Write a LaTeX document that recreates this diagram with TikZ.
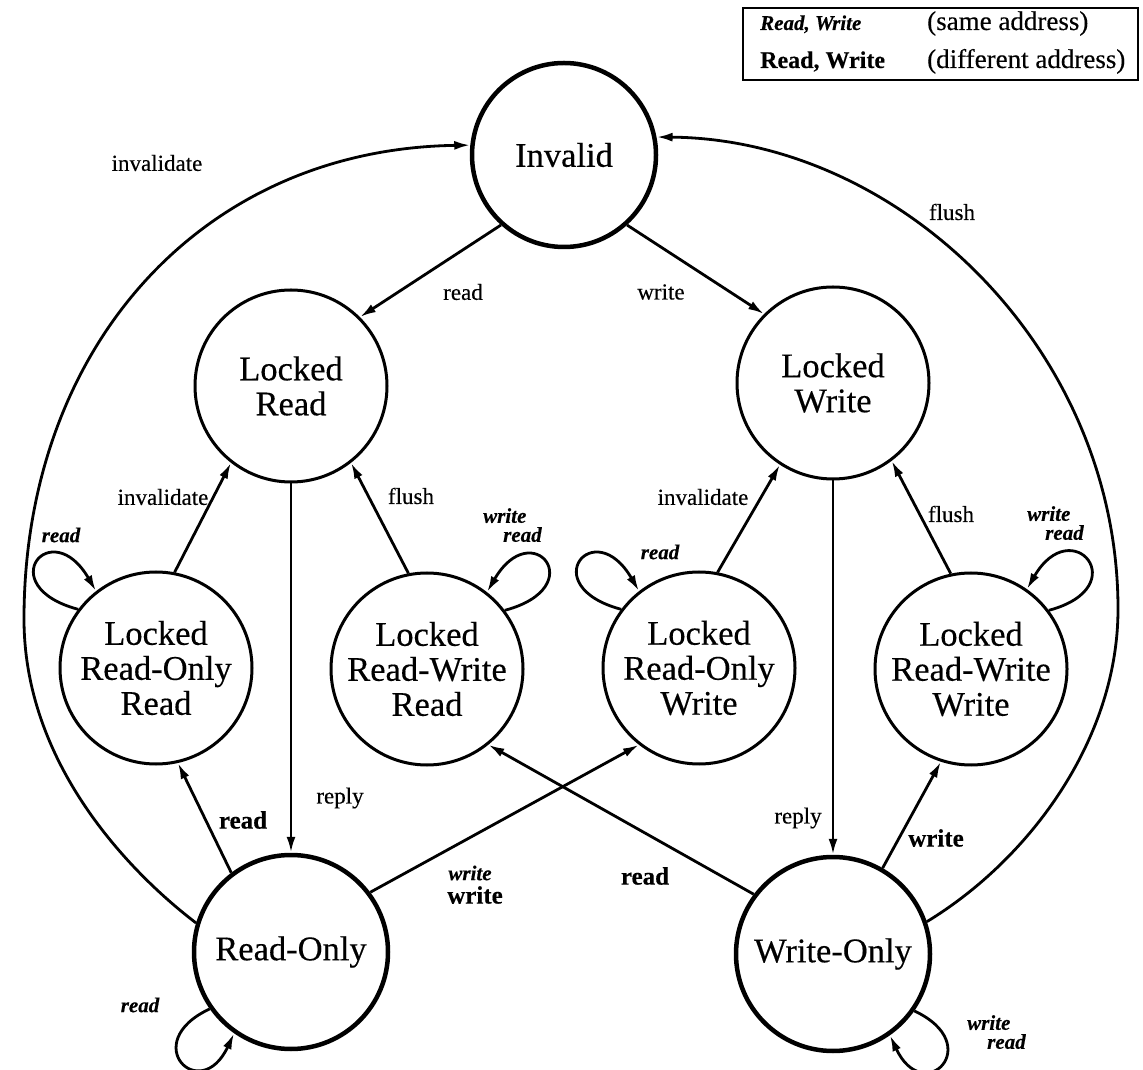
\documentclass[tikz,border=0pt]{standalone}
\usepackage{fontspec}
\setmainfont{Liberation Serif}[FakeBold=0.35]
\usetikzlibrary{arrows.meta}
\begin{document}
\begin{tikzpicture}[x=1pt,y=1pt,
  state/.style={circle, draw, line width=3pt, minimum size=192pt, inner sep=0pt,
    align=center, font=\fontsize{34.5}{35}\selectfont},
  major/.style={state, line width=4.5pt},
  tr/.style={line width=2.8pt, -{Latex[length=16pt,width=9pt]}},
  lbl/.style={font=\fontsize{23}{25}\selectfont, inner sep=0pt},
  same/.style={font=\fontsize{21}{19}\selectfont\bfseries\itshape, inner sep=0pt, align=left},
  diff/.style={font=\fontsize{25}{27}\selectfont\bfseries, inner sep=0pt},
]
\useasboundingbox (0,0) rectangle (1143,1069);

% states
\node[major, minimum size=184pt] (inv) at (564,914) {Invalid};
\node[state] (lr)   at (291,683) {Locked\\Read};
\node[state] (lw)   at (833,686) {Locked\\Write};
\node[state] (lror) at (156,401) {Locked\\Read-Only\\Read};
\node[state] (lrwr) at (427,400) {Locked\\Read-Write\\Read};
\node[state] (lrow) at (699,401) {Locked\\Read-Only\\Write};
\node[state] (lrww) at (971,400) {Locked\\Read-Write\\Write};
\node[major, minimum size=194pt] (ro) at (291,117) {Read-Only};
\node[major, minimum size=194pt] (wo) at (833,115) {Write-Only};

% straight transitions
\draw[tr] (inv.228) -- (lr.45);
\draw[tr] (inv.312) -- (lw.135);
\draw[tr] (lr.south) -- (ro.north);
\draw[tr] (lw.south) -- (wo.north);
\draw[tr] (lror.79) -- (lr.232);
\draw[tr] (lrwr.101) -- (lr.308);
\draw[tr] (lrow.79) -- (lw.237);
\draw[tr] (lrww.102) -- (lw.307);
\draw[tr] (ro.127) -- (lror.283);
\draw[tr] (wo.60) -- (lrww.252);
\draw[tr] (ro.37) -- (lrow.232);
\draw[tr] (wo.143) -- (lrwr.309);

% long transitions back to Invalid
\draw[tr] (ro.163) .. controls (137,191) and (24,300) .. (24,450)
  .. controls (24,720) and (200,920) .. (inv.174);
\draw[tr] (wo.19) .. controls (1030,210) and (1118,330) .. (1118,460)
  .. controls (1118,720) and (900,930) .. (inv.11);

% self loops
\draw[tr] (lror.143) .. controls +(165:90) and +(120:90) .. (lror.128);
\draw[tr] (lrwr.37) .. controls +(15:90) and +(60:90) .. (lrwr.52);
\draw[tr] (lrow.143) .. controls +(165:90) and +(120:90) .. (lrow.128);
\draw[tr] (lrww.37) .. controls +(15:90) and +(60:90) .. (lrww.55);
\draw[tr] (ro.215) .. controls +(205:80) and +(245:80) .. (ro.235);
\draw[tr] (wo.325) .. controls +(335:80) and +(295:80) .. (wo.305);

% transition labels
\node[lbl] (l-inv) at (157,906) {invalidate};
\node[lbl] (l-fl)  at (952,857) {flush};
\node[lbl] (l-rd)  at (463,777) {read};
\node[lbl] (l-wr)  at (661,777) {write};
\node[lbl] (l-iv1) at (163,572) {invalidate};
\node[lbl] (l-fl1) at (411,573) {flush};
\node[lbl] (l-iv2) at (703,572) {invalidate};
\node[lbl] (l-fl2) at (951,555) {flush};
\node[lbl] (l-rp1) at (340,271) {reply};
\node[lbl] (l-rp2) at (798,251) {reply};
\node[diff] (l-rd1) at (243,249) {read};
\node[diff] (l-wr1) at (936,231) {write};
\node[same] (l-wr2) at (470,196) {write};
\node[diff] (l-wr3) at (475,174) {write};
\node[diff] (l-rd2) at (645,193) {read};

% loop labels
\node[same] (s-1)  at (61,534)  {read};
\node[same, anchor=north west] (s-2) at (483,561) {write\\\hspace*{20pt}read};
\node[same] (s-3)  at (660,517) {read};
\node[same, anchor=north west] (s-4) at (1027,563) {write\\\hspace*{18pt}read};
\node[same] (s-5)  at (140,64)  {read};
\node[same, anchor=north west] (s-6) at (967,54) {write\\\hspace*{20pt}read};

% key
\draw[line width=2.8pt] (743,989) rectangle (1138,1061);
\node[anchor=base west, inner sep=0pt, font=\fontsize{21}{23}\selectfont\bfseries\itshape] (k1) at (760,1039) {Read, Write};
\node[anchor=base west, inner sep=0pt, font=\fontsize{27}{29}\selectfont] (k2) at (927,1039) {(same address)};
\node[anchor=base west, inner sep=0pt, font=\fontsize{24}{26}\selectfont\bfseries] (k3) at (760,1001) {Read, Write};
\node[anchor=base west, inner sep=0pt, font=\fontsize{27}{29}\selectfont] (k4) at (927,1001) {(different address)};
\end{tikzpicture}
\end{document}
